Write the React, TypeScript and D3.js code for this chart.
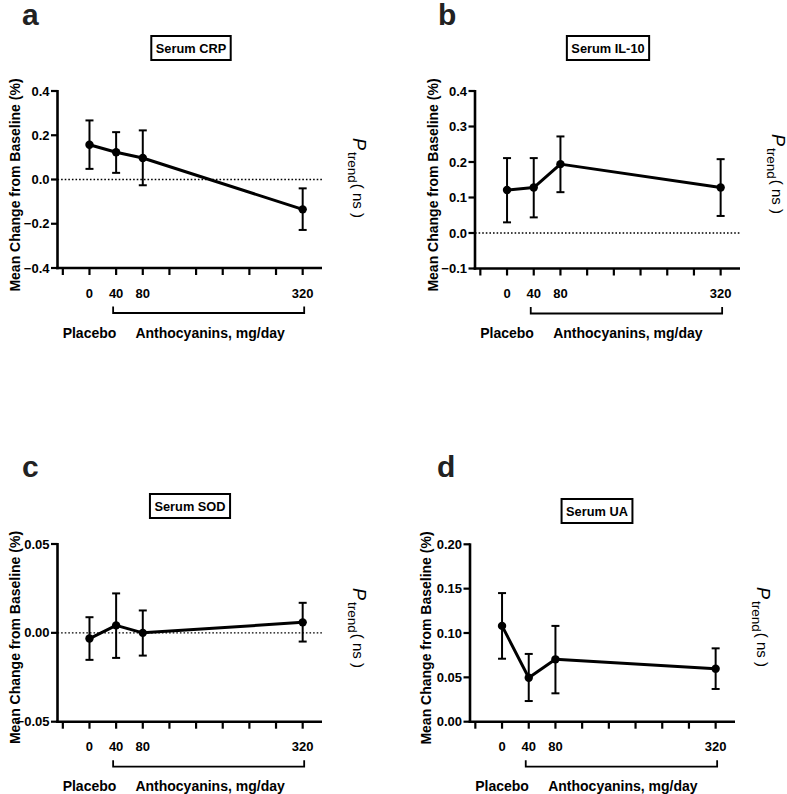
import React, { useEffect, useRef } from "react";
import * as d3 from "d3";

// ---- Data ----
const doses = [0, 40, 80, 320];
const xTickValues = [-40, 0, 40, 80, 120, 160, 200, 240, 280, 320];
const xTickLabels = ["", "0", "40", "80", "", "", "", "", "", "320"];

const crpMean = [0.157, 0.123, 0.097, -0.135];
const crpUpper = [0.267, 0.214, 0.222, -0.04];
const crpLower = [0.048, 0.03, -0.026, -0.228];
const crpTicks = [-0.4, -0.2, 0, 0.2, 0.4];

const il10Mean = [0.121, 0.128, 0.194, 0.128];
const il10Upper = [0.211, 0.211, 0.272, 0.208];
const il10Lower = [0.03, 0.044, 0.115, 0.048];
const il10Ticks = [-0.1, 0, 0.1, 0.2, 0.3, 0.4];

const sodMean = [-0.0032, 0.0042, 0.0, 0.0059];
const sodUpper = [0.0088, 0.0222, 0.0126, 0.0169];
const sodLower = [-0.0152, -0.0141, -0.0128, -0.0049];
const sodTicks = [-0.05, 0, 0.05];

const uaMean = [0.108, 0.0496, 0.0703, 0.0598];
const uaUpper = [0.145, 0.0764, 0.108, 0.0827];
const uaLower = [0.071, 0.0233, 0.032, 0.0369];
const uaTicks = [0, 0.05, 0.1, 0.15, 0.2];

const panelLetters = ["a", "b", "c", "d"];
const panelTitles = ["Serum CRP", "Serum IL-10", "Serum SOD", "Serum UA"];
const yLabel = "Mean Change from Baseline (%)";
const placeboLabel = "Placebo";
const anthoLabel = "Anthocyanins, mg/day";

// ---- Layout ----
const FONT = "'Liberation Sans', Arial, Helvetica, sans-serif";
const panels = [
  {
    mean: crpMean, upper: crpUpper, lower: crpLower, ticks: crpTicks, fmt: ".1f", zeroLine: true,
    axisX: 57.5, right: 322, top: 91, bottom: 268, letter: [22, 25], titleX: 191, titleY: 36,
    ylab: [20, 185], pX: 353, pY: 138,
  },
  {
    mean: il10Mean, upper: il10Upper, lower: il10Lower, ticks: il10Ticks, fmt: ".1f", zeroLine: true,
    axisX: 475, right: 740, top: 91, bottom: 268.5, letter: [438, 25], titleX: 608, titleY: 36,
    ylab: [438, 185], pX: 772, pY: 134,
  },
  {
    mean: sodMean, upper: sodUpper, lower: sodLower, ticks: sodTicks, fmt: ".2f", zeroLine: true,
    axisX: 57.5, right: 322, top: 544, bottom: 721.7, letter: [22, 477], titleX: 190, titleY: 494,
    ylab: [20, 637.5], pX: 353, pY: 588,
  },
  {
    mean: uaMean, upper: uaUpper, lower: uaLower, ticks: uaTicks, fmt: ".2f", zeroLine: false,
    axisX: 470, right: 735, top: 544.3, bottom: 721.7, letter: [437, 477], titleX: 597, titleY: 499,
    ylab: [431, 638], pX: 757, pY: 587,
  },
];

export default function App() {
  const ref = useRef<SVGSVGElement | null>(null);

  useEffect(() => {
    const svg = d3.select(ref.current);
    svg.selectAll("*").remove();

    panels.forEach((p, i) => {
      const g = svg.append("g");
      const yMin = d3.min(p.ticks) as number;
      const yMax = d3.max(p.ticks) as number;
      const x = d3.scaleLinear().domain([-48, 349]).range([p.axisX, p.right]);
      const y = d3.scaleLinear().domain([yMin, yMax]).range([p.bottom, p.top]);

      // panel letter
      g.append("text")
        .attr("x", p.letter[0]).attr("y", p.letter[1])
        .attr("font-family", FONT).attr("font-weight", "bold").attr("font-size", 30)
        .attr("fill", "#222").text(panelLetters[i]);

      // title box
      const tt = g.append("text")
        .attr("x", p.titleX).attr("y", p.titleY + 16.5)
        .attr("text-anchor", "middle")
        .attr("font-family", FONT).attr("font-weight", "bold").attr("font-size", 12.8)
        .text(panelTitles[i]);
      const tw = (tt.node() as SVGTextElement).getComputedTextLength();
      g.insert("rect", "text:last-child")
        .attr("x", p.titleX - tw / 2 - 4.5).attr("y", p.titleY)
        .attr("width", tw + 9).attr("height", 24)
        .attr("fill", "white").attr("stroke", "black").attr("stroke-width", 2);
      tt.raise();

      // zero dotted line
      if (p.zeroLine) {
        g.append("line")
          .attr("x1", p.axisX).attr("x2", p.right)
          .attr("y1", y(0)).attr("y2", y(0))
          .attr("stroke", "black").attr("stroke-width", 1.4)
          .attr("stroke-dasharray", "1.6,2");
      }

      // y axis
      g.append("line")
        .attr("x1", p.axisX).attr("x2", p.axisX)
        .attr("y1", p.top - 1).attr("y2", p.bottom + 1.25)
        .attr("stroke", "black").attr("stroke-width", 2.6);
      const fmt = d3.format(p.fmt);
      p.ticks.forEach((t) => {
        g.append("line")
          .attr("x1", p.axisX - 6.5).attr("x2", p.axisX)
          .attr("y1", y(t)).attr("y2", y(t))
          .attr("stroke", "black").attr("stroke-width", 2.2);
        g.append("text")
          .attr("x", p.axisX - 8).attr("y", y(t) + 4.6)
          .attr("text-anchor", "end")
          .attr("font-family", FONT).attr("font-weight", "bold").attr("font-size", 13)
          .text(fmt(t));
      });

      // x axis
      g.append("line")
        .attr("x1", p.axisX - 1.3).attr("x2", p.right)
        .attr("y1", p.bottom).attr("y2", p.bottom)
        .attr("stroke", "black").attr("stroke-width", 2.6);
      xTickValues.forEach((t, k) => {
        g.append("line")
          .attr("x1", x(t)).attr("x2", x(t))
          .attr("y1", p.bottom).attr("y2", p.bottom + 7)
          .attr("stroke", "black").attr("stroke-width", 2.2);
        if (xTickLabels[k]) {
          g.append("text")
            .attr("x", x(t)).attr("y", p.bottom + 29.7)
            .attr("text-anchor", "middle")
            .attr("font-family", FONT).attr("font-weight", "bold").attr("font-size", 13)
            .text(xTickLabels[k]);
        }
      });

      // bracket
      const by = p.bottom + 45;
      const bx1 = x(doses[1]) - 3;
      const bx2 = x(doses[3]) + 1.5;
      g.append("path")
        .attr("d", `M${bx1},${by - 6.5}V${by}H${bx2}V${by - 6.5}`)
        .attr("fill", "none").attr("stroke", "black").attr("stroke-width", 1.8);

      g.append("text")
        .attr("x", x(0)).attr("y", p.bottom + 69.5)
        .attr("text-anchor", "middle")
        .attr("font-family", FONT).attr("font-weight", "bold").attr("font-size", 14)
        .text(placeboLabel);
      g.append("text")
        .attr("x", x(181)).attr("y", p.bottom + 69.5)
        .attr("text-anchor", "middle")
        .attr("font-family", FONT).attr("font-weight", "bold").attr("font-size", 14)
        .text(anthoLabel);

      // y label
      g.append("text")
        .attr("transform", `translate(${p.ylab[0]},${p.ylab[1]}) rotate(-90)`)
        .attr("text-anchor", "middle")
        .attr("font-family", FONT).attr("font-weight", "bold").attr("font-size", 14)
        .text(yLabel);

      // P trend
      const pt = g.append("text")
        .attr("transform", `translate(${p.pX},${p.pY}) rotate(90)`)
        .attr("font-family", FONT);
      pt.append("tspan").attr("font-style", "italic").attr("font-size", 18).text("P");
      pt.append("tspan").attr("font-size", 13.5).attr("dy", 5).attr("dx", 2).text("trend");
      pt.append("tspan").attr("font-size", 15).attr("dy", -5).attr("dx", 1).text("( ns )");

      // error bars
      doses.forEach((d, k) => {
        const cx = x(d);
        g.append("line")
          .attr("x1", cx).attr("x2", cx)
          .attr("y1", y(p.upper[k])).attr("y2", y(p.lower[k]))
          .attr("stroke", "black").attr("stroke-width", 2);
        [p.upper[k], p.lower[k]].forEach((v) => {
          g.append("line")
            .attr("x1", cx - 4).attr("x2", cx + 4)
            .attr("y1", y(v)).attr("y2", y(v))
            .attr("stroke", "black").attr("stroke-width", 2);
        });
      });

      // mean line
      const line = d3.line<number>()
        .x((_, k) => x(doses[k]))
        .y((v) => y(v));
      g.append("path")
        .attr("d", line(p.mean) as string)
        .attr("fill", "none").attr("stroke", "black").attr("stroke-width", 3)
        .attr("stroke-linejoin", "round");

      // points
      p.mean.forEach((v, k) => {
        g.append("circle")
          .attr("cx", x(doses[k])).attr("cy", y(v)).attr("r", 4.2)
          .attr("fill", "black");
      });
    });
  }, []);

  return (
    <svg
      ref={ref}
      width={787}
      height={794}
      style={{ position: "absolute", left: 0, top: 0, display: "block", background: "white" }}
    />
  );
}
